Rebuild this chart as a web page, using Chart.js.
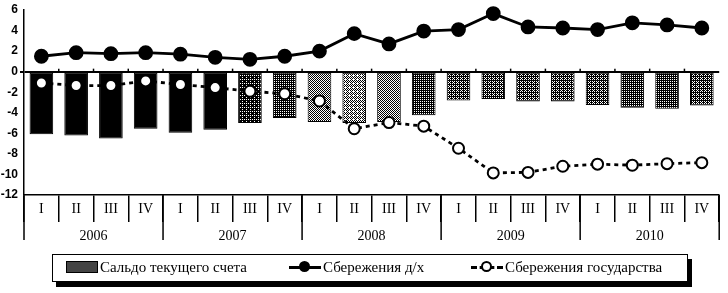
<!DOCTYPE html>
<html>
<head>
<meta charset="utf-8">
<script src="https://cdn.jsdelivr.net/npm/chart.js@4.4.1/dist/chart.umd.min.js"></script>
<style>
  body { margin: 0; background: #fff; }
  #wrap { position: relative; width: 728px; height: 293px; }
  #legenda {
    position: absolute; left: 52px; top: 254px; width: 634px; height: 26px;
    border: 1.5px solid #000; box-shadow: 4px 5px 0 #000; background: #fff;
    font-family: 'Liberation Serif', serif; font-size: 15px; color: #000;
  }
  .item { position: absolute; top: 4px; white-space: nowrap; }
  .sw { display: inline-block; position: relative; width: 32px; height: 12px; vertical-align: -1px; margin-right: 2px; }
  .sw-bar { width: 30px; height: 10px; background: #444; border: 1px solid #000; }
  .ln { position: absolute; left: 0; top: 5px; width: 32px; height: 0; border-top: 3px solid #000; }
  .ln.dash { border-top: 3px dashed #000; }
  .dot { position: absolute; left: 10px; top: 0; width: 11px; height: 11px; border-radius: 50%; background: #000; box-sizing: border-box; }
  .dot.open { background: #fff; border: 2px solid #000; }
</style>
</head>
<body>
<div id="wrap">
  <canvas id="grafico" width="728" height="293"></canvas>
  <div id="legenda">
    <span class="item" style="left:13px"><span class="sw sw-bar"></span>Сальдо текущего счета</span>
    <span class="item" style="left:236px"><span class="sw"><span class="ln"></span><span class="dot"></span></span>Сбережения д/х</span>
    <span class="item" style="left:418px"><span class="sw"><span class="ln dash"></span><span class="dot open"></span></span>Сбережения государства</span>
  </div>
</div>
<script>
const kvartaly = ['I','II','III','IV','I','II','III','IV','I','II','III','IV','I','II','III','IV','I','II','III','IV'];
const gody = ['2006','2007','2008','2009','2010'];
const saldo = [-6.1,-6.2,-6.5,-5.55,-5.95,-5.65,-5.0,-4.5,-4.9,-5.0,-4.9,-4.25,-2.8,-2.65,-2.9,-2.9,-3.25,-3.5,-3.6,-3.3];
const sberDH = [1.5,1.85,1.75,1.85,1.7,1.4,1.2,1.5,2.0,3.7,2.7,3.95,4.1,5.65,4.35,4.25,4.1,4.75,4.55,4.25];
const sberGos = [-1.1,-1.35,-1.35,-0.9,-1.25,-1.55,-1.9,-2.15,-2.85,-5.55,-4.95,-5.3,-7.45,-9.85,-9.8,-9.2,-9.0,-9.1,-8.95,-8.85];
const yTicks = [6,4,2,0,-2,-4,-6,-8,-10,-12];

// shade of each bar (share of black in the dither)
const tons = [1,1,1,1,1,1,0.8,0.7,0.5,0.4,0.5,0.7,0.65,0.65,0.65,0.65,0.65,0.7,0.7,0.65];

const bayer = [0,8,2,10,12,4,14,6,3,11,1,9,15,7,13,5];
function padrao(nivel) {
  const c = document.createElement('canvas');
  c.width = 4; c.height = 4;
  const g = c.getContext('2d');
  g.fillStyle = '#fff'; g.fillRect(0,0,4,4);
  g.fillStyle = '#000';
  for (let i = 0; i < 16; i++) {
    if (bayer[i] < nivel * 16) g.fillRect(i % 4, Math.floor(i / 4), 1, 1);
  }
  return g.createPattern(c, 'repeat');
}

const extras = {
  id: 'extras',
  afterDraw(chart) {
    const {ctx, scales: {x, y}} = chart;
    const w = x.width / kvartaly.length;
    const base = y.bottom;
    ctx.save();
    ctx.strokeStyle = '#000';
    ctx.lineWidth = 1.5;
    // small ticks on zero line
    const y0 = y.getPixelForValue(0);
    for (let i = 1; i < kvartaly.length; i++) {
      const xx = x.getPixelForValue(i) - w / 2;
      ctx.beginPath(); ctx.moveTo(xx, y0 - 3); ctx.lineTo(xx, y0); ctx.stroke();
    }
    // year separators and labels
    for (let k = 0; k <= gody.length; k++) {
      const idx = Math.min(k * 4, kvartaly.length - 1);
      const xx = k * 4 < kvartaly.length ? x.getPixelForValue(idx) - w / 2 : x.getPixelForValue(idx) + w / 2;
      ctx.beginPath(); ctx.moveTo(xx, base); ctx.lineTo(xx, base + 45); ctx.stroke();
    }
    ctx.fillStyle = '#000';
    ctx.font = '14px "Liberation Serif", serif';
    ctx.textAlign = 'center';
    ctx.textBaseline = 'middle';
    gody.forEach((g, k) => {
      const xc = (x.getPixelForValue(k * 4) + x.getPixelForValue(k * 4 + 3)) / 2;
      ctx.fillText(g, xc, base + 41);
    });
    ctx.restore();
  }
};

new Chart(document.getElementById('grafico'), {
  data: {
    labels: kvartaly,
    datasets: [
      {
        type: 'line', label: 'Сбережения д/х', data: sberDH, order: 1, clip: false,
        borderColor: '#000', borderWidth: 2.8, pointRadius: 6,
        pointBackgroundColor: '#000', pointBorderColor: '#000', tension: 0
      },
      {
        type: 'line', label: 'Сбережения государства', data: sberGos, order: 2, clip: false,
        borderColor: '#000', borderWidth: 2.8, borderDash: [4, 4], pointRadius: 5.5,
        pointBackgroundColor: '#fff', pointBorderColor: '#000', pointBorderWidth: 2, tension: 0
      },
      {
        type: 'bar', label: 'Сальдо текущего счета', data: saldo, order: 3,
        backgroundColor: tons.map(t => t >= 1 ? '#000' : padrao(t)),
        borderColor: '#000', borderWidth: 1, borderSkipped: false,
        barPercentage: 0.68, categoryPercentage: 1
      }
    ]
  },
  options: {
    responsive: false,
    animation: false,
    devicePixelRatio: 1,
    layout: { padding: { top: 10, right: 5, left: 0, bottom: 0 } },
    plugins: { legend: { display: false }, tooltip: { enabled: false } },
    scales: {
      x: {
        afterFit: s => { s.height = 98; },
        border: { color: '#000', width: 1.5 },
        grid: { display: true, drawOnChartArea: false, offset: true, tickLength: 27, color: '#000', lineWidth: 1.5 },
        ticks: { color: '#000', padding: -21, font: { family: 'Liberation Serif', size: 14 }, maxRotation: 0, autoSkip: false }
      },
      y: {
        min: -12, max: 6,
        afterFit: s => { s.width = 24; },
        afterBuildTicks: s => { s.ticks = yTicks.map(v => ({ value: v })); },
        border: { color: '#000', width: 1.5 },
        grid: {
          color: c => c.tick && c.tick.value === 0 ? '#000' : 'rgba(0,0,0,0)',
          lineWidth: c => c.tick && c.tick.value === 0 ? 2 : 0,
          tickColor: '#000', tickLength: 4
        },
        ticks: { color: '#000', padding: 2, font: { family: 'Liberation Sans Narrow, Liberation Sans', size: 12, weight: 'bold' } }
      }
    }
  },
  plugins: [extras]
});
</script>
</body>
</html>
